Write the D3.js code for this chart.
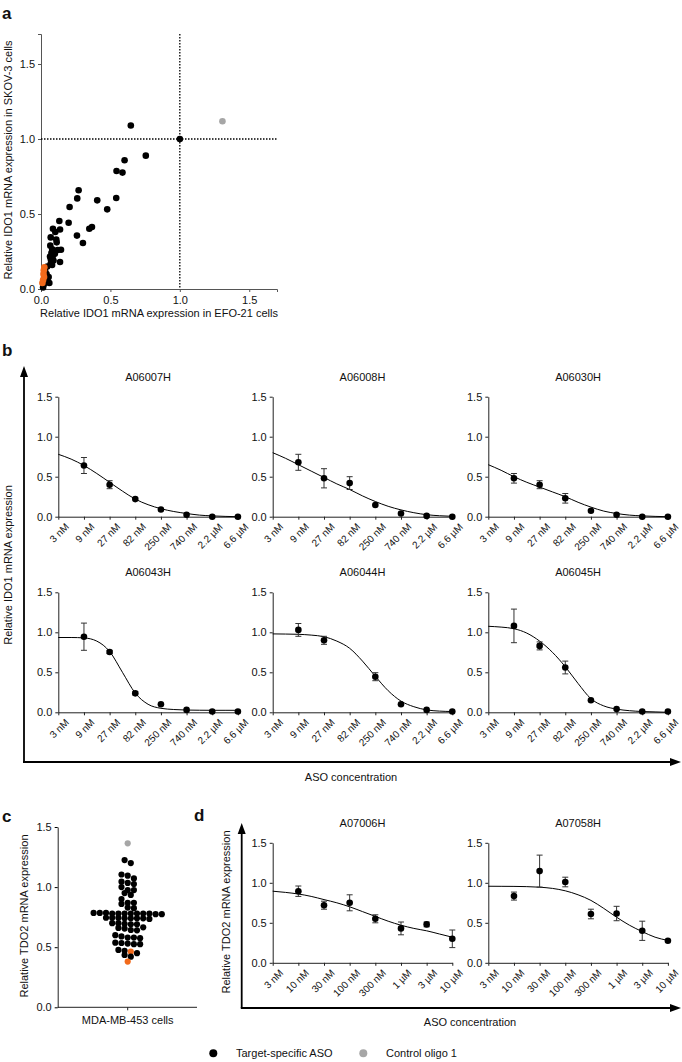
<!DOCTYPE html>
<html><head><meta charset="utf-8">
<script src="https://cdn.jsdelivr.net/npm/d3@7"></script>
<style>body{margin:0;background:#fff} text{font-family:"Liberation Sans",Arial,sans-serif;fill:#111}</style>
</head><body><svg id="fig" width="682" height="1062"></svg>
<script>
// ---------- Panel a data ----------
const aTargetX = [0.647,1.0,0.755,0.602,0.544,0.587,0.271,0.261,0.542,0.405,0.206,0.477,0.132,0.199,0.367,0.348,0.086,0.137,0.103,0.259,0.302,0.113,0.067,0.070,0.110,0.144,0.081,0.120,0.095,0.075,0.065,0.100,0.085,0.137,0.07,0.08,0.045,0.03,0.04,0.055,0.03,0.05,0.02,0.015,0.06,0.09,0.07];
const aTargetY = [1.09,1.0,0.889,0.858,0.787,0.776,0.658,0.604,0.607,0.591,0.547,0.531,0.453,0.442,0.413,0.402,0.402,0.397,0.38,0.356,0.307,0.311,0.289,0.344,0.330,0.262,0.264,0.260,0.255,0.240,0.216,0.235,0.220,0.180,0.17,0.16,0.15,0.12,0.10,0.08,0.06,0.05,0.03,0.01,0.04,0.19,0.20];
const aOrangeX = [0.024,0.020,0.018,0.022,0.015,0.010];
const aOrangeY = [0.145,0.125,0.100,0.080,0.060,0.040];
const aControlX = [1.307];
const aControlY = [1.118];
const aTicks = [0,0.5,1.0,1.5];

// ---------- Panel b data ----------
const concB = ["3 nM","9 nM","27 nM","82 nM","250 nM","740 nM","2.2 \u00b5M","6.6 \u00b5M"];
const curveIdx = [0,0.5,1,1.5,2,2.5,3,3.5,4,4.5,5,5.5,6,6.5,7];
const namesB = ["A06007H","A06008H","A06030H","A06043H","A06044H","A06045H"];
const meanB = [
  [null,0.64,0.40,0.22,0.09,0.025,0.0,0.0],
  [null,0.68,0.48,0.42,0.146,0.04,0.01,0.0],
  [null,0.48,0.40,0.23,0.075,0.025,0.0,0.0],
  [null,0.945,0.754,0.237,0.10,0.03,0.01,0.01],
  [null,1.03,0.90,null,0.445,0.10,0.03,0.01],
  [null,1.08,0.83,0.56,0.15,0.04,0.01,0.01]
];
const errB = [
  [null,0.10,0.05,0.01,0.01,0.01,0,0],
  [null,0.10,0.12,0.08,0.01,0.01,0,0],
  [null,0.06,0.05,0.06,0.01,0,0,0],
  [null,0.17,0.02,0.02,0.01,0.01,0,0],
  [null,0.08,0.05,null,0.05,0.01,0.01,0],
  [null,0.21,0.05,0.08,0.01,0,0,0]
];
const fitB = [
  [0.78,0.72,0.64,0.54,0.43,0.32,0.22,0.15,0.10,0.065,0.04,0.02,0.01,0.004,0.0],
  [0.80,0.73,0.65,0.57,0.49,0.41,0.34,0.26,0.19,0.13,0.085,0.05,0.025,0.012,0.005],
  [0.65,0.58,0.50,0.43,0.37,0.31,0.25,0.18,0.12,0.07,0.04,0.02,0.01,0.004,0.0],
  [0.935,0.935,0.93,0.89,0.76,0.50,0.24,0.10,0.05,0.035,0.028,0.026,0.025,0.025,0.025],
  [0.98,0.978,0.975,0.965,0.945,0.89,0.80,0.64,0.45,0.27,0.14,0.07,0.03,0.015,0.01],
  [1.075,1.065,1.045,0.99,0.89,0.75,0.57,0.36,0.17,0.08,0.04,0.02,0.01,0.005,0.0]
];

// ---------- Panel c data ----------
const cTarget = [1.225,1.20,1.105,1.095,1.072,1.045,1.035,1.025,1.0,0.976,0.975,0.95,0.935,0.90,0.87,0.87,0.86,0.83,0.825,
  0.785,0.78,0.78,0.78,0.785,0.78,0.775,0.78,0.785,0.78,0.78,0.775,
  0.745,0.74,0.74,0.745,0.735,0.74,0.745,0.74,
  0.70,0.69,0.695,0.70,0.69,0.665,0.66,0.655,0.643,0.64,
  0.60,0.58,0.575,0.58,0.59,0.538,0.535,0.53,0.525,0.525,
  0.477,0.47,0.45,0.435,0.421];
const cOrange = [0.463,0.38];
const cControl = [1.364];
const cTicks = [0,0.5,1.0,1.5];

// ---------- Panel d data ----------
const concD = ["3 nM","10 nM","30 nM","100 nM","300 nM","1 \u00b5M","3 \u00b5M","10 \u00b5M"];
const namesD = ["A07006H","A07058H"];
const meanD = [
  [null,0.895,0.72,0.75,0.55,0.43,0.48,0.30],
  [null,0.834,1.146,1.01,0.61,0.616,0.40,0.275]
];
const errD = [
  [null,0.065,0.05,0.10,0.05,0.08,0.03,0.11],
  [null,0.05,0.20,0.06,0.06,0.09,0.12,0]
];
const fitD = [
  [0.895,0.88,0.86,0.83,0.79,0.75,0.70,0.64,0.58,0.52,0.47,0.43,0.40,0.36,0.32],
  [0.957,0.956,0.955,0.952,0.945,0.93,0.90,0.85,0.78,0.68,0.57,0.47,0.39,0.32,0.28]
];
const doseTicks = [0,0.5,1.0,1.5];

// ---------- drawing ----------
const svg = d3.select("#fig");
const BLACK = "#000", ORANGE = "#f26a1b", GREY = "#a6a6a6";
const FS = 11;

function label(x,y,t,opt={}){
  const e = svg.append("text").attr("x",x).attr("y",y).text(t)
    .attr("font-size",opt.size||FS).attr("text-anchor",opt.anchor||"middle");
  if(opt.bold) e.attr("font-weight","bold");
  if(opt.rot) e.attr("transform",`rotate(${opt.rot},${x},${y})`);
  return e;
}
function arrowHead(x,y,dir){ // tip at x,y
  const L=11,W=4;
  let p;
  if(dir==="up") p=[[x,y],[x-W,y+L],[x+W,y+L]];
  else p=[[x,y],[x-L,y-W],[x-L,y+W]];
  svg.append("path").attr("d","M"+p.join("L")+"Z").attr("fill","#000");
}

// Panel a
(function(){
  const x = d3.scaleLinear().domain([0,1.7]).range([41,277]);
  const y = d3.scaleLinear().domain([0,1.7]).range([289,34]);
  const g = svg.append("g");
  const ax = g.append("g").attr("transform","translate(0,289)")
    .call(d3.axisBottom(x).tickValues(aTicks).tickFormat(d3.format(".1f")).tickSize(3));
  const ay = g.append("g").attr("transform","translate(41,0)")
    .call(d3.axisLeft(y).tickValues(aTicks).tickFormat(d3.format(".1f")).tickSize(3));
  [ax,ay].forEach(a=>{a.select(".domain").attr("stroke","#555");a.selectAll("line").attr("stroke","#555");
    a.selectAll("text").attr("font-size",FS).attr("font-family","Liberation Sans, Arial").attr("fill","#111");});
  ax.selectAll("text").attr("dy","0.8em");
  g.append("line").attr("x1",x(1)).attr("x2",x(1)).attr("y1",y(1.7)).attr("y2",y(0))
    .attr("stroke","#000").attr("stroke-width",1.3).attr("stroke-dasharray","1.5,1.5");
  g.append("line").attr("x1",x(0)).attr("x2",x(1.7)).attr("y1",y(1)).attr("y2",y(1))
    .attr("stroke","#000").attr("stroke-width",1.3).attr("stroke-dasharray","1.5,1.5");
  const R=3.3;
  aTargetX.forEach((v,i)=>g.append("circle").attr("cx",x(v)).attr("cy",y(aTargetY[i])).attr("r",R).attr("fill",BLACK));
  aOrangeX.forEach((v,i)=>g.append("circle").attr("cx",x(v)).attr("cy",y(aOrangeY[i])).attr("r",R).attr("fill",ORANGE));
  aControlX.forEach((v,i)=>g.append("circle").attr("cx",x(v)).attr("cy",y(aControlY[i])).attr("r",R).attr("fill",GREY));
  label(159,317,"Relative IDO1 mRNA expression in EFO-21 cells");
  label(12,160,"Relative IDO1 mRNA expression in SKOV-3 cells",{rot:-90});
  label(2,19,"a",{anchor:"start",bold:true,size:17});
})();

function doseSubplot(x0,yZero,name,conc,mean,err,fit){
  const x = d3.scaleLinear().domain([0,7]).range([x0,x0+179.6]);
  const y = d3.scaleLinear().domain([0,1.5]).range([yZero,yZero-120]);
  const g = svg.append("g");
  const ax = g.append("g").attr("transform",`translate(0,${yZero})`)
    .call(d3.axisBottom(x).tickValues(d3.range(8)).tickFormat(i=>conc[i]).tickSize(3).tickSizeOuter(0));
  ax.selectAll("text").attr("font-size",10).attr("text-anchor","end").attr("fill","#111")
    .attr("font-family","Liberation Sans, Arial")
    .attr("transform","translate(3,3) rotate(-45)").attr("dy","0.5em").attr("dx","0");
  const ay = g.append("g").attr("transform",`translate(${x0},0)`)
    .call(d3.axisLeft(y).tickValues(doseTicks).tickFormat(d3.format(".1f")).tickSize(3).tickSizeOuter(0));
  ay.selectAll("text").attr("font-size",FS).attr("fill","#111").attr("font-family","Liberation Sans, Arial");
  [ax,ay].forEach(a=>{a.select(".domain").attr("stroke","#222");a.selectAll("line").attr("stroke","#222");});
  const line = d3.line().x((d,i)=>x(curveIdx[i])).y(d=>y(d)).curve(d3.curveMonotoneX);
  g.append("path").attr("d",line(fit)).attr("fill","none").attr("stroke","#000").attr("stroke-width",1);
  mean.forEach((m,i)=>{
    if(m==null) return;
    const e = err[i]||0;
    if(e>0.015){
      g.append("line").attr("x1",x(i)).attr("x2",x(i)).attr("y1",y(m-e)).attr("y2",y(m+e)).attr("stroke","#333");
      [m-e,m+e].forEach(v=>g.append("line").attr("x1",x(i)-3).attr("x2",x(i)+3).attr("y1",y(v)).attr("y2",y(v)).attr("stroke","#333"));
    }
    g.append("circle").attr("cx",x(i)).attr("cy",y(m)).attr("r",3.3).attr("fill",BLACK);
  });
  label(x0+89.8,yZero-136,name);
}

// Panel b
label(2,356,"b",{anchor:"start",bold:true,size:17});
const colX = [58.3,272.7,488.3], rowY = [516.7,712.3];
namesB.forEach((n,k)=>doseSubplot(colX[k%3],rowY[Math.floor(k/3)],n,concB,meanB[k],errB[k],fitB[k]));
svg.append("line").attr("x1",24).attr("x2",24).attr("y1",762).attr("y2",374).attr("stroke","#000").attr("stroke-width",1.8);
svg.append("line").attr("x1",23).attr("x2",672).attr("y1",762).attr("y2",762).attr("stroke","#000").attr("stroke-width",1.8);
arrowHead(24,366,"up"); arrowHead(681,762,"right");
label(12,565,"Relative IDO1 mRNA expression",{rot:-90});
label(351,781,"ASO concentration");

// Panel c (row-binned dot plot, GraphPad style)
(function(){
  const y = d3.scaleLinear().domain([0,1.5]).range([1007.3,827]);
  const cx = 127.7, R=3.1, D=2*R;
  const g = svg.append("g");
  const ay = g.append("g").attr("transform","translate(57.7,0)")
    .call(d3.axisLeft(y).tickValues(cTicks).tickFormat(d3.format(".1f")).tickSize(3).tickSizeOuter(0));
  ay.selectAll("text").attr("font-size",FS).attr("fill","#111").attr("font-family","Liberation Sans, Arial");
  ay.select(".domain").attr("stroke","#222");
  g.append("line").attr("x1",57.7).attr("x2",197).attr("y1",1007.3).attr("y2",1007.3).attr("stroke","#222");
  g.append("line").attr("x1",cx).attr("x2",cx).attr("y1",1007.3).attr("y2",1010.3).attr("stroke","#222");
  const all = cTarget.map(v=>({v,c:BLACK})).concat(cOrange.map(v=>({v,c:ORANGE}))).concat(cControl.map(v=>({v,c:GREY})));
  all.forEach(p=>p.y=y(p.v));
  all.sort((a,b)=>a.y-b.y);
  const rows=[]; let cur=null;
  all.forEach(p=>{
    if(!cur || p.y-cur[0].y > D*0.75){cur=[p];rows.push(cur);} else cur.push(p);
  });
  rows.forEach(r=>r.forEach((p,i)=>p.x=(i-(r.length-1)/2)*D));
  all.forEach(p=>g.append("circle").attr("cx",cx+p.x).attr("cy",p.y).attr("r",R).attr("fill",p.c));
  label(cx,1024,"MDA-MB-453 cells");
  label(28,916,"Relative TDO2 mRNA expression",{rot:-90});
  label(2,822,"c",{anchor:"start",bold:true,size:17});
})();

// Panel d
label(194,821,"d",{anchor:"start",bold:true,size:17});
const colD=[272.7,488.3];
namesD.forEach((n,k)=>doseSubplot(colD[k],962.8,n,concD,meanD[k],errD[k],fitD[k]));
svg.append("line").attr("x1",241.7).attr("x2",241.7).attr("y1",1008).attr("y2",831).attr("stroke","#000").attr("stroke-width",1.8);
svg.append("line").attr("x1",240.8).attr("x2",672).attr("y1",1008).attr("y2",1008).attr("stroke","#000").attr("stroke-width",1.8);
arrowHead(241.7,823,"up"); arrowHead(681,1008,"right");
label(230,912,"Relative TDO2 mRNA expression",{rot:-90});
label(470,1026,"ASO concentration");

// Legend
svg.append("circle").attr("cx",213.3).attr("cy",1053.3).attr("r",4).attr("fill",BLACK);
label(236,1057.3,"Target-specific ASO",{anchor:"start"});
svg.append("circle").attr("cx",363.3).attr("cy",1053.3).attr("r",4).attr("fill",GREY);
label(386,1057.3,"Control oligo 1",{anchor:"start"});
</script></body></html>
